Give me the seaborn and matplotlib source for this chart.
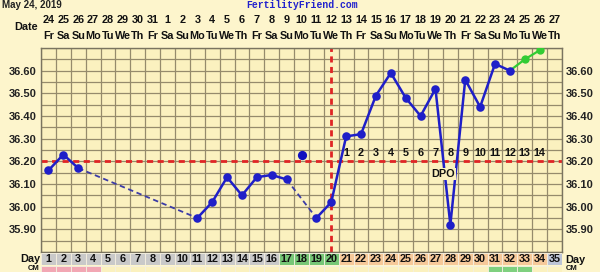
import numpy as np
import pandas as pd
import matplotlib
matplotlib.use("Agg")
import matplotlib.pyplot as plt
import matplotlib.transforms as mtransforms
import seaborn as sns

# ---------------- data ----------------
cycle_days = list(range(1, 36))
dates = [24, 25, 26, 27, 28, 29, 30, 31] + list(range(1, 28))
weekdays = ["Fr", "Sa", "Su", "Mo", "Tu", "We", "Th"] * 5
temps = [36.16, 36.23, 36.17, None, None, None, None, None, None, None,
         35.95, 36.02, 36.13, 36.05, 36.13, 36.14, 36.12, None, 35.95, 36.02,
         36.31, 36.32, 36.49, 36.59, 36.48, 36.40, 36.52, 35.92, 36.56, 36.44,
         36.63, 36.60, None, None, None]
discarded_days = [18]
discarded_temps = [36.23]
projected_days = [32, 33, 34]
projected_temps = [36.60, 36.65, 36.69]
coverline = 36.20
ovulation_day = 20
dpo_days = list(range(21, 35))
dpo_labels = [str(i) for i in range(1, 15)]
dpo_label_temp = 36.235
ytick_values = [35.90, 36.00, 36.10, 36.20, 36.30, 36.40, 36.50, 36.60]
day_phase = ["plain"] * 16 + ["fertile"] * 4 + ["luteal"] * 14 + ["today"]
cm_phase = ["period"] * 4 + ["none"] * 26 + ["green"] * 3 + ["none"] * 2

# ---------------- style ----------------
OUTER = "#fdf5cc"
INNER = "#fbf1bf"
GRID = "#958b6c"
BLUE = "#1f1fc8"
DASHBLUE = "#3b3ba6"
GREEN = "#33cc33"
RED = "#e02525"
phase_colors = {"plain": "#c9c9c9", "fertile": "#77c777", "luteal": "#f6c99a", "today": "#bcc4d6"}
cm_colors = {"period": "#f2a7b4", "none": INNER, "green": "#7fd07f"}

sns.set_theme(style="white")
plt.rcParams["font.family"] = ["Liberation Sans", "DejaVu Sans"]
plt.rcParams["font.weight"] = "bold"

W, H = 600, 272
fig = plt.figure(figsize=(W / 100, H / 100), dpi=100, facecolor=OUTER)

L, R, T, B = 41, 562, 48, 252
ax = fig.add_axes([L / W, (H - B) / H, (R - L) / W, (B - T) / H])
ax.set_facecolor(INNER)
ax.set_xlim(0.5, 35.5)
ax.set_ylim(35.80, 36.70)

# grid
for xv in np.arange(0.5, 36.0, 1.0):
    ax.axvline(xv, color=GRID, lw=0.9, zorder=1)
for yv in np.arange(35.80, 36.7001, 0.05):
    ax.axhline(yv, color=GRID, lw=0.9, zorder=1)
for s in ax.spines.values():
    s.set_color("#7a7460")
    s.set_linewidth(1.0)

# coverline and ovulation line
ax.axhline(coverline, color=RED, lw=2.0, ls=(0, (2.2, 1.6)), zorder=2)
ax.axvline(ovulation_day, color=RED, lw=2.0, ls=(0, (2.2, 1.6)), zorder=2)

# temperature lines: solid for consecutive days, dashed across gaps
valid = [(d, t) for d, t in zip(cycle_days, temps) if t is not None]
runs = [[valid[0]]]
for prev, cur in zip(valid[:-1], valid[1:]):
    if cur[0] - prev[0] == 1:
        runs[-1].append(cur)
    else:
        seg = pd.DataFrame([prev, cur], columns=["day", "temp"])
        sns.lineplot(data=seg, x="day", y="temp", ax=ax, color=DASHBLUE, lw=1.3,
                     linestyle=(0, (3, 2)), estimator=None, sort=False, zorder=3)
        runs.append([cur])
for run in runs:
    if len(run) > 1:
        df = pd.DataFrame(run, columns=["day", "temp"])
        sns.lineplot(data=df, x="day", y="temp", ax=ax, color=BLUE, lw=1.8,
                     estimator=None, sort=False, zorder=4)

# projected (green)
pdf = pd.DataFrame({"day": projected_days, "temp": projected_temps})
sns.lineplot(data=pdf, x="day", y="temp", ax=ax, color=GREEN, lw=1.6,
             estimator=None, sort=False, zorder=4)
sns.scatterplot(x=projected_days[1:], y=projected_temps[1:], ax=ax, color=GREEN,
                s=36, edgecolor=GREEN, linewidth=0, zorder=5)

vdf = pd.DataFrame(valid, columns=["day", "temp"])
sns.scatterplot(data=vdf, x="day", y="temp", ax=ax, color=BLUE, s=38,
                edgecolor=BLUE, linewidth=0, zorder=5)
sns.scatterplot(x=discarded_days, y=discarded_temps, ax=ax, color="#1010c0", s=44,
                edgecolor="#1010c0", linewidth=0, zorder=5)

# DPO numbers
for d, lab in zip(dpo_days, dpo_labels):
    ax.text(d, dpo_label_temp, lab, ha="center", va="center", fontsize=7.8,
            fontweight="bold", color="#111111", zorder=6)
ax.text(27.5, 36.145, "DPO", ha="center", va="center", fontsize=7.8, fontweight="bold",
        color="#111111", zorder=6,
        bbox=dict(facecolor=INNER, edgecolor="none", pad=0.6))

# ticks: both sides
ax.set_yticks(ytick_values)
ax.set_yticklabels([f"{v:.2f}" for v in ytick_values])
ax.set_xticks([])
ax.tick_params(axis="y", length=0, labelsize=8, labelright=True, labelleft=True, pad=3)
for lab in ax.get_yticklabels():
    lab.set_fontweight("bold")
    lab.set_color("#222222")
ax.set_xlabel("")
ax.set_ylabel("")

# top date/weekday labels
bt = mtransforms.blended_transform_factory(ax.transData, fig.transFigure)
for d, dt, wd in zip(cycle_days, dates, weekdays):
    ax.text(d, 1 - 20 / H, str(dt), transform=bt, ha="center", va="center",
            fontsize=7.8, fontweight="bold", color="#111111", clip_on=False)
    ax.text(d, 1 - 36 / H, wd, transform=bt, ha="center", va="center",
            fontsize=7.8, fontweight="bold", color="#111111", clip_on=False)
fig.text(38 / W, 1 - 27 / H, "Date", ha="right", va="center", fontsize=7.8,
         fontweight="bold", color="#111111")
fig.text(2 / W, 1 - 0.5 / H, "May 24, 2019", ha="left", va="top", fontsize=7,
         fontweight="bold", color="#222222")
fig.text(302 / W, 1 - 0.5 / H, "FertilityFriend.com", ha="center", va="top",
         fontsize=7, fontweight="bold", color="#2222cc",
         family=["Liberation Mono", "DejaVu Sans Mono"])

# Day row
DT, DB = 252.5, 265
axd = fig.add_axes([L / W, (H - DB) / H, (R - L) / W, (DB - DT) / H])
axd.set_xlim(0.5, 35.5)
axd.set_ylim(0, 1)
axd.bar(cycle_days, [1] * 35, width=1.0, color=[phase_colors[p] for p in day_phase],
        edgecolor="#f4efe0", linewidth=0.6)
for d in cycle_days:
    axd.text(d, 0.5, str(d), ha="center", va="center", fontsize=7.8,
             fontweight="bold", color="#111111")
axd.axis("off")
fig.text(40 / W, 1 - 259 / H, "Day", ha="right", va="center", fontsize=7.8,
         fontweight="bold", color="#111111")
fig.text(565 / W, 1 - 260 / H, "Day", ha="left", va="center", fontsize=7.8,
         fontweight="bold", color="#111111")

# CM row (cut off at the bottom)
CT = 265.5
axc = fig.add_axes([L / W, -6 / H, (R - L) / W, (H + 6 - CT) / H])
axc.set_xlim(0.5, 35.5)
axc.set_ylim(0, 1)
axc.bar(cycle_days, [1] * 35, width=1.0, color=[cm_colors[p] for p in cm_phase],
        edgecolor="#f4efe0", linewidth=0.6)
axc.axis("off")
fig.text(39 / W, 0.5 / H, "CM", ha="right", va="bottom", fontsize=5.5,
         fontweight="bold", color="#111111")
fig.text(566 / W, 0.5 / H, "CM", ha="left", va="bottom", fontsize=5.5,
         fontweight="bold", color="#111111")

fig.savefig("out.png", dpi=100, facecolor=OUTER)
